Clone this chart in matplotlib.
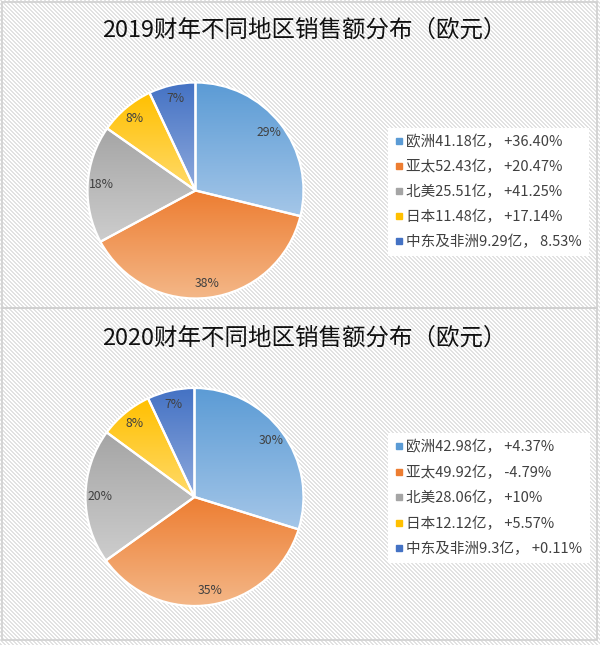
import numpy as np
import matplotlib
matplotlib.use("Agg")
import matplotlib.pyplot as plt
from matplotlib.patches import Rectangle
from matplotlib.lines import Line2D
from matplotlib.colors import to_rgb

plt.rcParams['font.family'] = ['Noto Sans CJK SC', 'DejaVu Sans']

# ---- data ----
regions = ["欧洲", "亚太", "北美", "日本", "中东及非洲"]
# legend figures (亿欧元, growth)
sales_2019 = [41.18, 52.43, 25.51, 11.48, 9.29]
growth_2019 = ["+36.40%", "+20.47%", "+41.25%", "+17.14%", "8.53%"]
sales_2020 = [42.98, 49.92, 28.06, 12.12, 9.3]
growth_2020 = ["+4.37%", "-4.79%", "+10%", "+5.57%", "+0.11%"]
# pie shares (%)
share_2019 = [28.8, 38.3, 17.6, 8.25, 7.0]
share_2020 = [29.8, 35.3, 20.0, 7.9, 7.0]
titles = ["2019财年不同地区销售额分布（欧元）", "2020财年不同地区销售额分布（欧元）"]

top_colors = ["#5B9BD5", "#ED7D31", "#A5A5A5", "#FFC000", "#4472C4"]
bottom_colors = ["#A4C6E8", "#F4B889", "#CDCDCD", "#FFDA6A", "#8EA9DC"]

W, H = 600, 645
fig = plt.figure(figsize=(W / 100, H / 100), dpi=100)

# striped background
yy, xx = np.mgrid[0:H, 0:W]
bg = np.ones((H, W, 3))
mask = ((xx - yy) % 4) < 2
bg[mask] = to_rgb("#e2e2e2")
fig.figimage(bg, xo=0, yo=0, origin='upper', zorder=-5)

def fx(px):
    return px / W

def fy(py):
    return 1 - py / H

# panel borders
for (top, bot) in [(2, 308), (308, 640)]:
    fig.patches.append(Rectangle((fx(2), fy(bot)), fx(597) - fx(2), fy(top) - fy(bot),
                                 transform=fig.transFigure, fill=False,
                                 edgecolor="#d0d0d0", lw=1.2, zorder=1))

panels = [
    dict(share=share_2019, sales=sales_2019, growth=growth_2019, title=titles[0],
         cx=195.5, cy=190.5, r=108, ty=30, ly=192, sp=0.72),
    dict(share=share_2020, sales=sales_2020, growth=growth_2020, title=titles[1],
         cx=194.5, cy=497, r=109, ty=338, ly=498, sp=0.76),
]

for p in panels:
    cx, cy, r = p["cx"], p["cy"], p["r"]
    ax = fig.add_axes([fx(cx - r), fy(cy + r), 2 * r / W, 2 * r / H])
    ax.patch.set_alpha(0)
    wedges, texts, autotexts = ax.pie(
        p["share"], startangle=90, counterclock=False, radius=1,
        autopct=lambda v: f"{v:.0f}%", pctdistance=0.87,
        wedgeprops=dict(edgecolor="white", linewidth=1.6, facecolor="none"),
        textprops=dict(fontsize=8.8, color="#404040"))
    for i, w in enumerate(wedges):
        w.set_facecolor("none")
        w.set_zorder(3)
        verts = w.get_patch_transform().transform(w.get_path().vertices)
        x0, x1 = verts[:, 0].min(), verts[:, 0].max()
        y0, y1 = verts[:, 1].min(), verts[:, 1].max()
        c0 = np.array(to_rgb(top_colors[i]))
        c1 = np.array(to_rgb(bottom_colors[i]))
        t = np.linspace(0, 1, 128)[:, None, None]
        grad = c0 * (1 - t) + c1 * t
        grad = np.repeat(grad, 2, axis=1)
        im = ax.imshow(grad, extent=[x0, x1, y0, y1], origin='upper',
                       aspect='auto', zorder=2, interpolation='bilinear')
        im.set_clip_path(w)
    for t_ in autotexts:
        t_.set_zorder(5)
    ax.set_xlim(-1, 1)
    ax.set_ylim(-1, 1)
    ax.set_aspect('equal')
    ax.axis('off')

    fig.text(fx(304), fy(p["ty"]), p["title"], fontsize=16.9, color="#111111",
             ha="center", va="center")

    handles = [Line2D([], [], marker='s', ls='', markersize=4.2,
                      markerfacecolor=c, markeredgecolor=c) for c in top_colors]
    labels = [f"{reg}{v:g}亿， {g}" for reg, v, g in zip(regions, p["sales"], p["growth"])]
    leg = fig.legend(handles, labels, loc='center left',
                     bbox_to_anchor=(fx(388), fy(p["ly"])),
                     frameon=True, facecolor='white', edgecolor='none', framealpha=1,
                     fontsize=10.5, handlelength=0.5, handletextpad=0.25,
                     labelspacing=p["sp"], borderpad=0.5, borderaxespad=0,
                     fancybox=False)
    for txt in leg.get_texts():
        txt.set_color("#404040")

fig.savefig("out.png", dpi=100)
